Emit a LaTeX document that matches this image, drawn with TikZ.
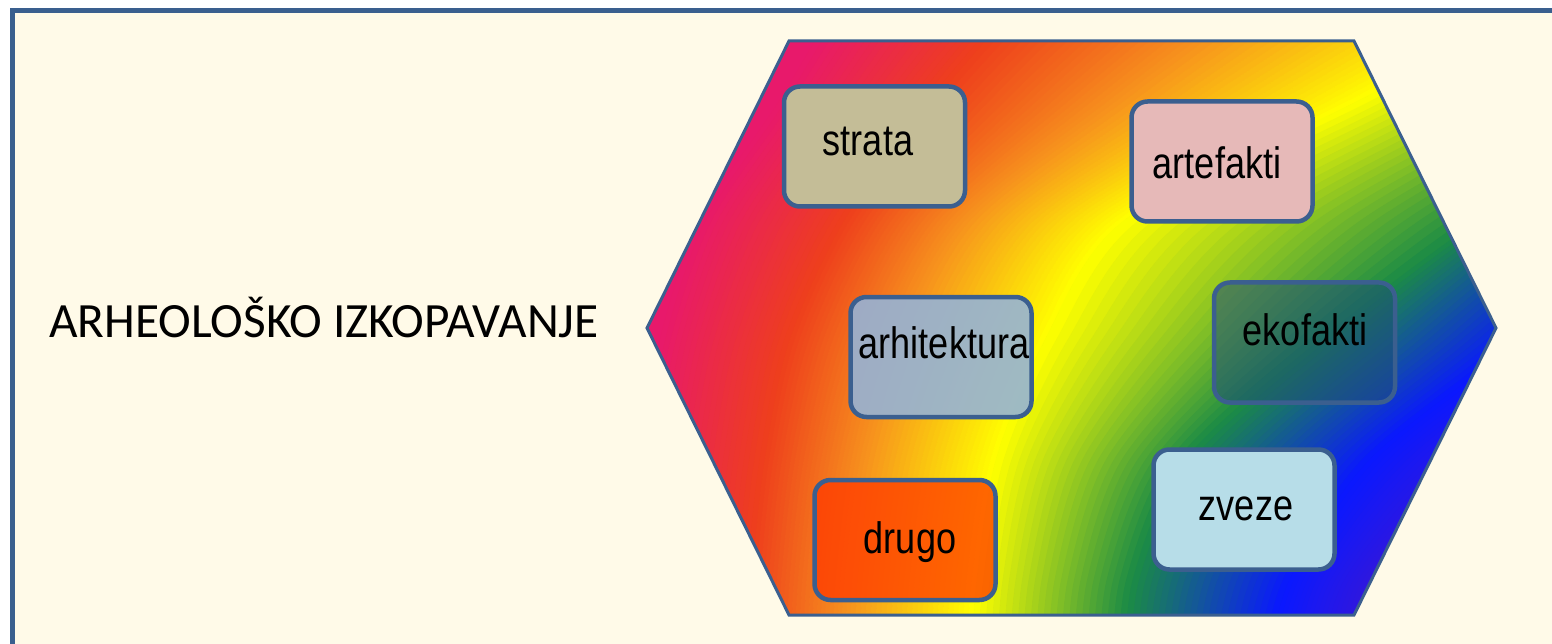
\documentclass[tikz,border=0pt]{standalone}
\usepackage{fontspec}
\newfontfamily\titlefont{Carlito}
\newfontfamily\narrowfont[FakeStretch=0.82]{Liberation Sans}
\definecolor{frameblue}{HTML}{3A5F8E}
\definecolor{cream}{HTML}{FFFAE8}
\definecolor{edgeblue}{HTML}{3B5F8F}
\definecolor{cPink}{HTML}{E8196B}
\definecolor{cRed}{HTML}{EE3F1C}
\definecolor{cOrange}{HTML}{F7941D}
\definecolor{cYellow}{HTML}{FFFF00}
\definecolor{cGreen}{HTML}{1B8B45}
\definecolor{cBlue}{HTML}{0A18FF}
\definecolor{cPurple}{HTML}{3C17D4}
\definecolor{fStrata}{HTML}{C4BD97}
\definecolor{fArte}{HTML}{E6B9B8}
\definecolor{fEko}{HTML}{1F4E79}
\definecolor{fArhi}{HTML}{95B3D7}
\definecolor{fDrugo}{HTML}{FF3C00}
\definecolor{fZveze}{HTML}{B7DDE8}
% x positions of the colour key curves (pink, red, orange, yellow, green, blue, purple, far) at fixed heights
\def\LvA{{850,1040,1287,1590,1900,1980,2100,2300}}
\def\LvB{{780,935,1126,1360,1680,1800,1950,2300}}
\def\LvC{{700,845,971,1125,1480,1650,1800,2300}}
\def\LvD{{660,790,905,1045,1320,1520,1680,2300}}
\def\LvE{{640,765,869,996,1185,1370,1520,2300}}
\def\LvF{{630,752,853,977,1133,1290,1400,2300}}
\def\LvG{{625,748,848,970,1125,1265,1370,2300}}
\newcommand\bandx[3]{\pgfmathsetmacro#1{#2[\k]+#3*(#2[\k+1]-#2[\k])}}
\tikzset{
  box/.style={draw=edgeblue, line width=4.5pt, rounded corners=16pt,
    minimum width=181pt, minimum height=120pt, inner sep=0pt},
  lbl/.style={font=\narrowfont\fontsize{44}{50}\selectfont, anchor=base,
    inner sep=0pt, text=black},
  hexline/.style={draw=edgeblue, line width=3pt, line join=miter}
}
\begin{document}
\begin{tikzpicture}[x=1pt,y=-1pt]
\useasboundingbox (0,0) rectangle (1552,644);
% background and frame
\fill[white] (0,0) rectangle (1552,644);
\fill[cream] (15,13) rectangle (1552,644);
\fill[frameblue] (10,8) rectangle (1552,13);
\fill[frameblue] (10,8) rectangle (15,644);
% hexagon corners
\coordinate (h1) at (647,328);
\coordinate (h2) at (789,41);
\coordinate (h3) at (1354,41);
\coordinate (h4) at (1496,328);
\coordinate (h5) at (1354,615);
\coordinate (h6) at (789,615);
% rainbow fill
\begin{scope}
\clip (h1) -- (h2) -- (h3) -- (h4) -- (h5) -- (h6) -- cycle;
\fill[cPink] (600,0) rectangle (1552,644);
\foreach \k/\ca/\cb in {0/cPink/cRed,1/cRed/cOrange,2/cOrange/cYellow,3/cYellow/cGreen,4/cGreen/cBlue,5/cBlue/cPurple,6/cPurple/cPurple}{
  \foreach \i in {0,...,23}{
    \pgfmathsetmacro\fa{\i/24}
    \pgfmathsetmacro\fb{(\i+1)/24}
    \pgfmathsetmacro\pc{100-100*(\i+0.5)/24}
    \bandx\ptA\LvA\fa \bandx\ptB\LvB\fa \bandx\ptC\LvC\fa \bandx\ptD\LvD\fa
    \bandx\ptE\LvE\fa \bandx\ptF\LvF\fa \bandx\ptG\LvG\fa
    \bandx\qtA\LvA\fb \bandx\qtB\LvB\fb \bandx\qtC\LvC\fb \bandx\qtD\LvD\fb
    \bandx\qtE\LvE\fb \bandx\qtF\LvF\fb \bandx\qtG\LvG\fb
    \filldraw[fill=\ca!\pc!\cb, draw=\ca!\pc!\cb, line width=0.8pt]
      plot[smooth] coordinates {(\ptA,-20) (\ptB,100) (\ptC,220) (\ptD,340) (\ptE,460) (\ptF,580) (\ptG,680)}
      -- plot[smooth] coordinates {(\qtG,680) (\qtF,580) (\qtE,460) (\qtD,340) (\qtC,220) (\qtB,100) (\qtA,-20)}
      -- cycle;
  }
}
\end{scope}
\draw[hexline] (h1) -- (h2) -- (h3) -- (h4) -- (h5) -- (h6) -- cycle;
% boxes
\node[box, fill=fStrata] (strata) at (874.5,146.5) {};
\node[box, fill=fArte] (arte) at (1222,161.5) {};
\node[box, fill=fEko, fill opacity=0.55] (eko) at (1304.5,342.5) {};
\node[box, fill=fArhi, fill opacity=0.9] (arhi) at (941,357) {};
\node[box, fill=fDrugo, fill opacity=0.78] (drugo) at (905,540) {};
\node[box, fill=fZveze] (zveze) at (1244,509.5) {};
% labels
\node[lbl] (tStrata) at (868,156) {strata};
\node[lbl] (tArte) at (1217,179) {artefakti};
\node[lbl] (tEko) at (1305,345) {ekofakti};
\node[lbl] (tArhi) at (944,358) {arhitektura};
\node[lbl] (tDrugo) at (910,553) {drugo};
\node[lbl] (tZveze) at (1246,520) {zveze};
% title
\node[anchor=base west, inner sep=0pt, font=\titlefont\fontsize{49.3}{58}\selectfont] (title) at (49,337) {ARHEOLOŠKO IZKOPAVANJE};
\end{tikzpicture}
\end{document}
